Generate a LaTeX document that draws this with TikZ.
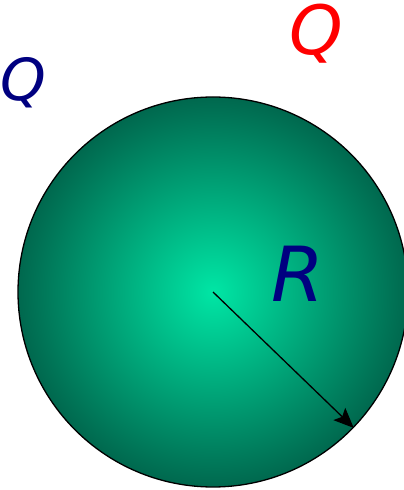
\documentclass[tikz,border=0pt]{standalone}
\usepackage{fontspec}
\setmainfont{DejaVu Sans}
\usetikzlibrary{arrows.meta}

\definecolor{ballcore}{RGB}{0,230,165}
\definecolor{ballrim}{RGB}{0,104,78}
\definecolor{navyq}{RGB}{0,0,128}

\begin{document}
\begin{tikzpicture}[
  x=1pt,y=1pt,
  ball/.style={circle,draw=black,line width=1.3pt,minimum size=390pt,inner sep=0pt,
    inner color=ballcore,outer color=ballrim},
  sym/.style={inner sep=0pt,font=\itshape},
  radiusarrow/.style={-{Stealth[length=20pt,width=17pt,inset=4pt]},line width=1.3pt},
]
\useasboundingbox (0,0) rectangle (404,490);

\node[ball] (sphere) at (213,198) {};
\node[sym,text=navyq,font=\fontsize{58}{60}\selectfont\itshape] (qin) at (23,407) {Q};
\node[sym,text=red,font=\fontsize{68}{70}\selectfont\itshape] (qout) at (316,456) {Q};
\node[sym,text=navyq,font=\fontsize{76}{78}\selectfont\itshape] (rlabel) at (298,216) {R};

\draw[radiusarrow] (sphere.center) -- (sphere.-44);
\end{tikzpicture}
\end{document}
